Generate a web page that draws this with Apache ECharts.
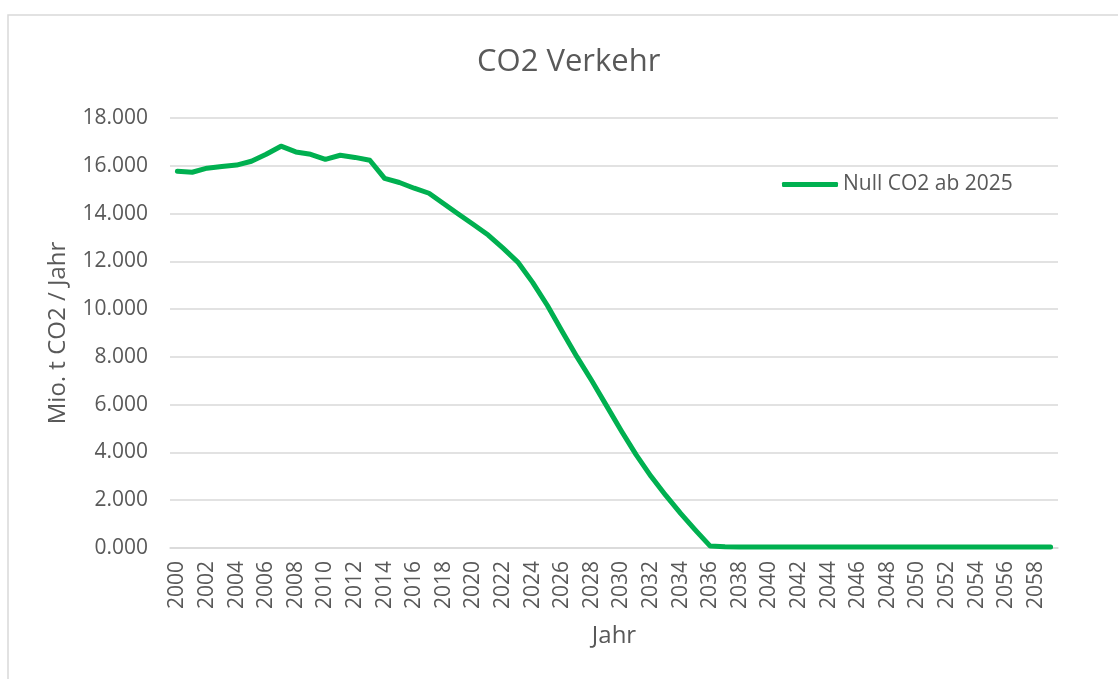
<!DOCTYPE html>
<html>
<head>
<meta charset="utf-8">
<script src="https://cdn.jsdelivr.net/npm/echarts@6/dist/echarts.min.js"></script>
<style>
html,body{margin:0;padding:0;background:#fff;}
#c{width:1118px;height:679px;}
</style>
</head>
<body>
<div id="c"></div>
<script>
var years = [];
for (var y = 2000; y <= 2059; y++) years.push(String(y));

var seriesName = 'Null CO2 ab 2025';
var values = [
  15.77, 15.73, 15.90, 15.97, 16.03, 16.19, 16.48, 16.82, 16.58, 16.48,
  16.27, 16.44, 16.35, 16.23, 15.47, 15.30, 15.06, 14.85, 14.41, 13.97,
  13.54, 13.10, 12.55, 11.97, 11.12, 10.15, 9.06, 8.00, 7.00, 5.95,
  4.90, 3.90, 3.00, 2.20, 1.45, 0.75, 0.08, 0.05, 0.04, 0.04,
  0.04, 0.04, 0.04, 0.04, 0.04, 0.04, 0.04, 0.04, 0.04, 0.04,
  0.04, 0.04, 0.04, 0.04, 0.04, 0.04, 0.04, 0.04, 0.04, 0.04
];

var titleText = 'CO2 Verkehr';
var yAxisName = 'Mio. t CO2 / Jahr';
var xAxisName = 'Jahr';

var font = '"Open Sans", "Liberation Sans", sans-serif';
var grey = '#595959';
var gridGrey = '#d9d9d9';
var green = '#00B050';

var chart = echarts.init(document.getElementById('c'), null, {renderer: 'canvas'});
chart.setOption({
  backgroundColor: '#ffffff',
  animation: false,
  title: {
    text: titleText,
    left: 472,
    top: 42,
    textStyle: {fontFamily: font, fontSize: 31, fontWeight: 'normal', color: grey}
  },
  graphic: [{
    type: 'rect',
    shape: {x: 8, y: 15, width: 1200, height: 700},
    style: {fill: 'none', stroke: gridGrey, lineWidth: 1.5},
    z: -1
  }],
  legend: {
    data: [{name: seriesName, icon: 'roundRect'}],
    left: 782,
    top: 174,
    padding: 0,
    itemWidth: 56,
    itemHeight: 5,
    itemGap: 5,
    textStyle: {fontFamily: font, fontSize: 21, color: grey}
  },
  grid: {left: 170, right: 60, top: 118, bottom: 131, containLabel: false},
  xAxis: {
    type: 'category',
    data: years,
    boundaryGap: true,
    name: xAxisName,
    nameLocation: 'middle',
    nameGap: 76,
    nameTextStyle: {fontFamily: font, fontSize: 24, color: grey},
    axisLine: {show: true, lineStyle: {color: gridGrey, width: 1.5}},
    axisTick: {show: false},
    axisLabel: {
      interval: 1,
      rotate: 90,
      margin: 13,
      fontFamily: font,
      fontSize: 21,
      color: grey
    },
    splitLine: {show: false}
  },
  yAxis: {
    type: 'value',
    min: 0,
    max: 18,
    interval: 2,
    name: yAxisName,
    nameLocation: 'middle',
    nameRotate: 90,
    nameGap: 100,
    nameTextStyle: {fontFamily: font, fontSize: 24, color: grey},
    axisLine: {show: false},
    axisTick: {show: false},
    axisLabel: {
      margin: 22,
      fontFamily: font,
      fontSize: 21,
      color: grey,
      formatter: function (v) { return v.toFixed(3); }
    },
    splitLine: {show: true, lineStyle: {color: gridGrey, width: 1.5}}
  },
  series: [{
    name: seriesName,
    type: 'line',
    data: values,
    symbol: 'none',
    smooth: false,
    itemStyle: {color: green},
    lineStyle: {color: green, width: 5, cap: 'round', join: 'round'}
  }]
});
</script>
</body>
</html>
